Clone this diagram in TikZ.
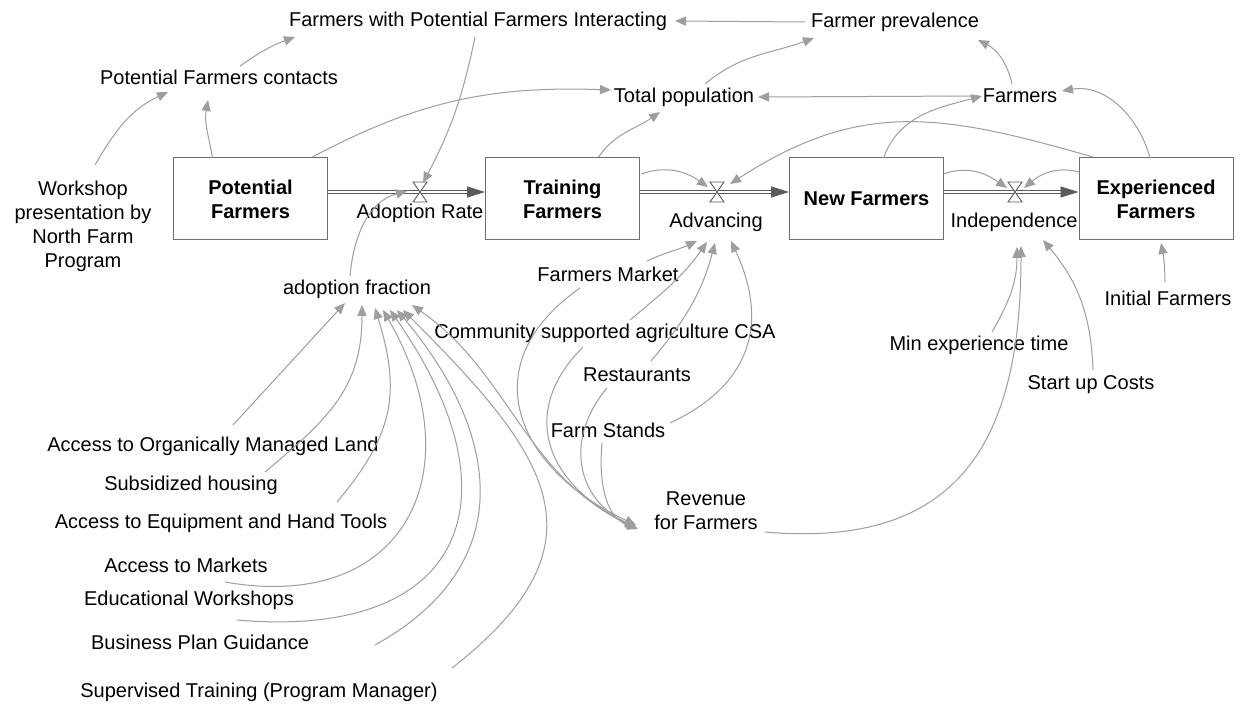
\documentclass[tikz,border=0pt]{standalone}
\usepackage{fontspec}
\setmainfont{Liberation Sans}
\usetikzlibrary{arrows.meta,calc}
\definecolor{conn}{RGB}{158,158,158}
\definecolor{boxc}{RGB}{110,110,110}
\definecolor{pipec}{RGB}{90,90,90}
\begin{document}
\begin{tikzpicture}[x=0.5pt,y=0.5pt,
  font=\fontsize{10}{12}\selectfont,
  aux/.style={inner sep=1pt, align=center, text=black},
  stock/.style={draw=boxc, line width=0.5pt, minimum width=77pt, minimum height=41pt, align=center, font=\fontsize{10}{12}\selectfont\bfseries},
  link/.style={draw=conn, line width=0.5pt, -{Triangle[length=5.5pt,width=4.6pt]}},
  pipe/.style={draw=pipec, line width=0.45pt, double=white, double distance=1.1pt},
  pipehead/.style={draw=pipec, fill=pipec, line width=0.45pt, -{Triangle[length=9pt,width=5.5pt]}},
  valve/.style={draw=pipec, fill=white, line width=0.45pt}]
\fill[white] (0,0) rectangle (1241,-705);
\useasboundingbox (0,0) rectangle (1241,-705);

% stocks
\node[stock] (PF) at (250.5,-199) {Potential\\Farmers};
\node[stock] (TF) at (562.5,-199) {Training\\Farmers};
\node[stock] (NF) at (866.5,-199) {New Farmers};
\node[stock] (EF) at (1156,-199) {Experienced\\Farmers};

% valves
\coordinate (vAR) at (420,-192);
\coordinate (vAdv) at (717,-192);
\coordinate (vInd) at (1015,-192);
\coordinate (p1s) at (PF.east |- vAR);
\coordinate (p1e) at (TF.west |- vAR);
\coordinate (p2s) at (TF.east |- vAdv);
\coordinate (p2e) at (NF.west |- vAdv);
\coordinate (p3s) at (NF.east |- vInd);
\coordinate (p3e) at (EF.west |- vInd);

\draw[pipe] (p1s) -- ($(p1e)+(-16,0)$);
\draw[pipehead] ($(p1e)+(-18,0)$) -- (p1e);
\draw[pipe] (p2s) -- ($(p2e)+(-16,0)$);
\draw[pipehead] ($(p2e)+(-18,0)$) -- (p2e);
\draw[pipe] (p3s) -- ($(p3e)+(-16,0)$);
\draw[pipehead] ($(p3e)+(-18,0)$) -- (p3e);

\draw[valve] ($(vAR)+(-7,10)$) -- ($(vAR)+(7,10)$) -- ($(vAR)+(-7,-10)$) -- ($(vAR)+(7,-10)$) -- cycle;
\draw[valve] ($(vAdv)+(-7,10)$) -- ($(vAdv)+(7,10)$) -- ($(vAdv)+(-7,-10)$) -- ($(vAdv)+(7,-10)$) -- cycle;
\draw[valve] ($(vInd)+(-7,10)$) -- ($(vInd)+(7,10)$) -- ($(vInd)+(-7,-10)$) -- ($(vInd)+(7,-10)$) -- cycle;

% flow labels
\node[aux] (lAR) at (420,-213) {Adoption Rate};
\node[aux] (lAdv) at (716,-222) {Advancing};
\node[aux] (lInd) at (1014,-222) {Independence};

% auxiliaries
\node[aux] (ws) at (83,-226) {Workshop\\presentation by\\North Farm\\Program};
\node[aux] (pfc) at (219,-77) {Potential Farmers contacts};
\node[aux] (fwp) at (478,-21) {Farmers with Potential Farmers Interacting};
\node[aux] (fprev) at (895,-22) {Farmer prevalence};
\node[aux] (tp) at (684,-97) {Total population};
\node[aux] (farm) at (1020,-96) {Farmers};
\node[aux] (af) at (357,-289) {adoption fraction};
\node[aux] (fm) at (608,-274) {Farmers Market};
\node[aux] (csa) at (605,-333) {Community supported agriculture CSA};
\node[aux] (rest) at (637,-375) {Restaurants};
\node[aux] (fs) at (608,-430) {Farm Stands};
\node[aux] (rev) at (706,-511) {Revenue\\for Farmers};
\node[aux] (minexp) at (979,-345) {Min experience time};
\node[aux] (suc) at (1091,-385) {Start up Costs};
\node[aux] (initf) at (1168,-298) {Initial Farmers};
\node[aux] (l1) at (213,-446) {Access to Organically Managed Land};
\node[aux] (l2) at (191,-485) {Subsidized housing};
\node[aux] (l3) at (221,-523) {Access to Equipment and Hand Tools};
\node[aux] (l4) at (186,-565) {Access to Markets};
\node[aux] (l5) at (189,-600) {Educational Workshops};
\node[aux] (l6) at (200,-642) {Business Plan Guidance};
\node[aux] (l7) at (259,-692) {Supervised Training (Program Manager)};

% connectors (top)
\draw[link] ($(ws)+(12,61)$) to[out=60,in=205] ($(pfc)+(-51,-15)$);
\draw[link] ($(PF)+(-38,41)$) to[out=100,in=260] ($(pfc)+(-11,-23)$);
\draw[link] ($(pfc)+(21,11)$) to[out=35,in=200] ($(fwp)+(-183,-16)$);
\draw[link] ($(fwp)+(-3,-16)$) to[bend left=8] ($(vAR)+(3,9)$);
\draw[link] ($(fprev)+(-90,0)$) -- ($(fwp)+(197,0)$);
\draw[link] ($(farm)+(-8,12)$) to[bend right=25] ($(fprev)+(83,-18)$);
\draw[link] ($(farm)+(-42,0)$) -- ($(tp)+(74,0)$);
\draw[link] ($(NF)+(17,41)$) to[out=70,in=195] ($(farm)+(-38,0)$);
\draw[link] ($(EF)+(-6,41)$) to[out=105,in=10] ($(farm)+(42,5)$);
\draw[link] ($(PF)+(62,42)$) to[out=28,in=178] ($(tp)+(-73,7)$);
\draw[link] ($(TF)+(36,42)$) to[out=55,in=215] ($(tp)+(-24,-15)$);
\draw[link] ($(tp)+(21,13)$) to[out=40,in=200] ($(fprev)+(-81,-16)$);
\draw[link] ($(EF)+(-63,42)$) to[out=164,in=33,looseness=1.1] ($(vAdv)+(13,8)$);
\draw[link] ($(TF)+(79,25)$) to[out=20,in=145] ($(vAdv)+(-9,5)$);
\draw[link] ($(NF)+(77,25)$) to[out=20,in=145] ($(vInd)+(-8,4)$);
\draw[link] ($(EF)+(-77,27)$) to[out=165,in=40] ($(vInd)+(9,4)$);
\draw[link] ($(af)+(-7,13)$) to[out=85,in=195] ($(vAR)+(-13,1)$);

% Advancing inputs
\draw[link] ($(fm)+(39,13)$) to[out=25,in=205] ($(vAdv)+(-20,-49)$);
\draw[link] ($(csa)+(25,13)$) to[out=40,in=235] ($(vAdv)+(-10,-50)$);
\draw[link] ($(rest)+(14,14)$) to[out=50,in=255] ($(vAdv)+(-2,-51)$);
\draw[link] ($(fs)+(62,7)$) to[out=25,in=-65,looseness=1.2] ($(vAdv)+(14,-49)$);

% Revenue inputs
\draw[link] ($(fm)+(-28,-14)$) to[out=215,in=155,looseness=1.4] ($(rev)+(-70,-14)$);
\draw[link] ($(csa)+(-22,-14)$) to[out=225,in=155,looseness=1.3] ($(rev)+(-70,-16)$);
\draw[link] ($(rest)+(-30,-13)$) to[out=230,in=155,looseness=1.2] ($(rev)+(-69,-17)$);
\draw[link] ($(fs)+(-6,-13)$) to[out=265,in=160] ($(rev)+(-68,-18)$);

% Revenue outputs
\draw[link] ($(rev)+(-73,-16)$) to[out=155,in=-35] ($(af)+(55,-16)$);
\draw[link] ($(rev)+(59,-21)$) to[out=-5,in=-90,looseness=1.3] ($(vInd)+(6,-54)$);

% Independence inputs
\draw[link] ($(minexp)+(13,13)$) to[out=60,in=-90] ($(vInd)+(2,-55)$);
\draw[link] ($(suc)+(2,15)$) to[out=92,in=-50] ($(vInd)+(28,-48)$);
\draw[link] ($(initf)+(-3,16)$) to[bend right=5] ($(EF)+(5,-44)$);

% levers into adoption fraction
\draw[link] ($(l1)+(20,21)$) -- ($(af)+(-12,-14)$);
\draw[link] ($(l2)+(74,13)$) to[out=40,in=-90,looseness=1.1] ($(af)+(5,-16)$);
\draw[link] ($(l3)+(116,21)$) to[out=50,in=-73,looseness=1.15] ($(af)+(18,-19)$);
\draw[link] ($(l4)+(39,-17)$) to[out=-10,in=-60,looseness=1.5] ($(af)+(26,-21)$);
\draw[link] ($(l5)+(48,-20)$) to[out=-5,in=-55,looseness=1.7] ($(af)+(33,-21)$);
\draw[link] ($(l6)+(175,-3)$) to[out=29,in=-50,looseness=1.25] ($(af)+(40,-21)$);
\draw[link] ($(l7)+(193,24)$) to[out=38,in=-45,looseness=1.45] ($(af)+(46,-21)$);
\end{tikzpicture}
\end{document}
